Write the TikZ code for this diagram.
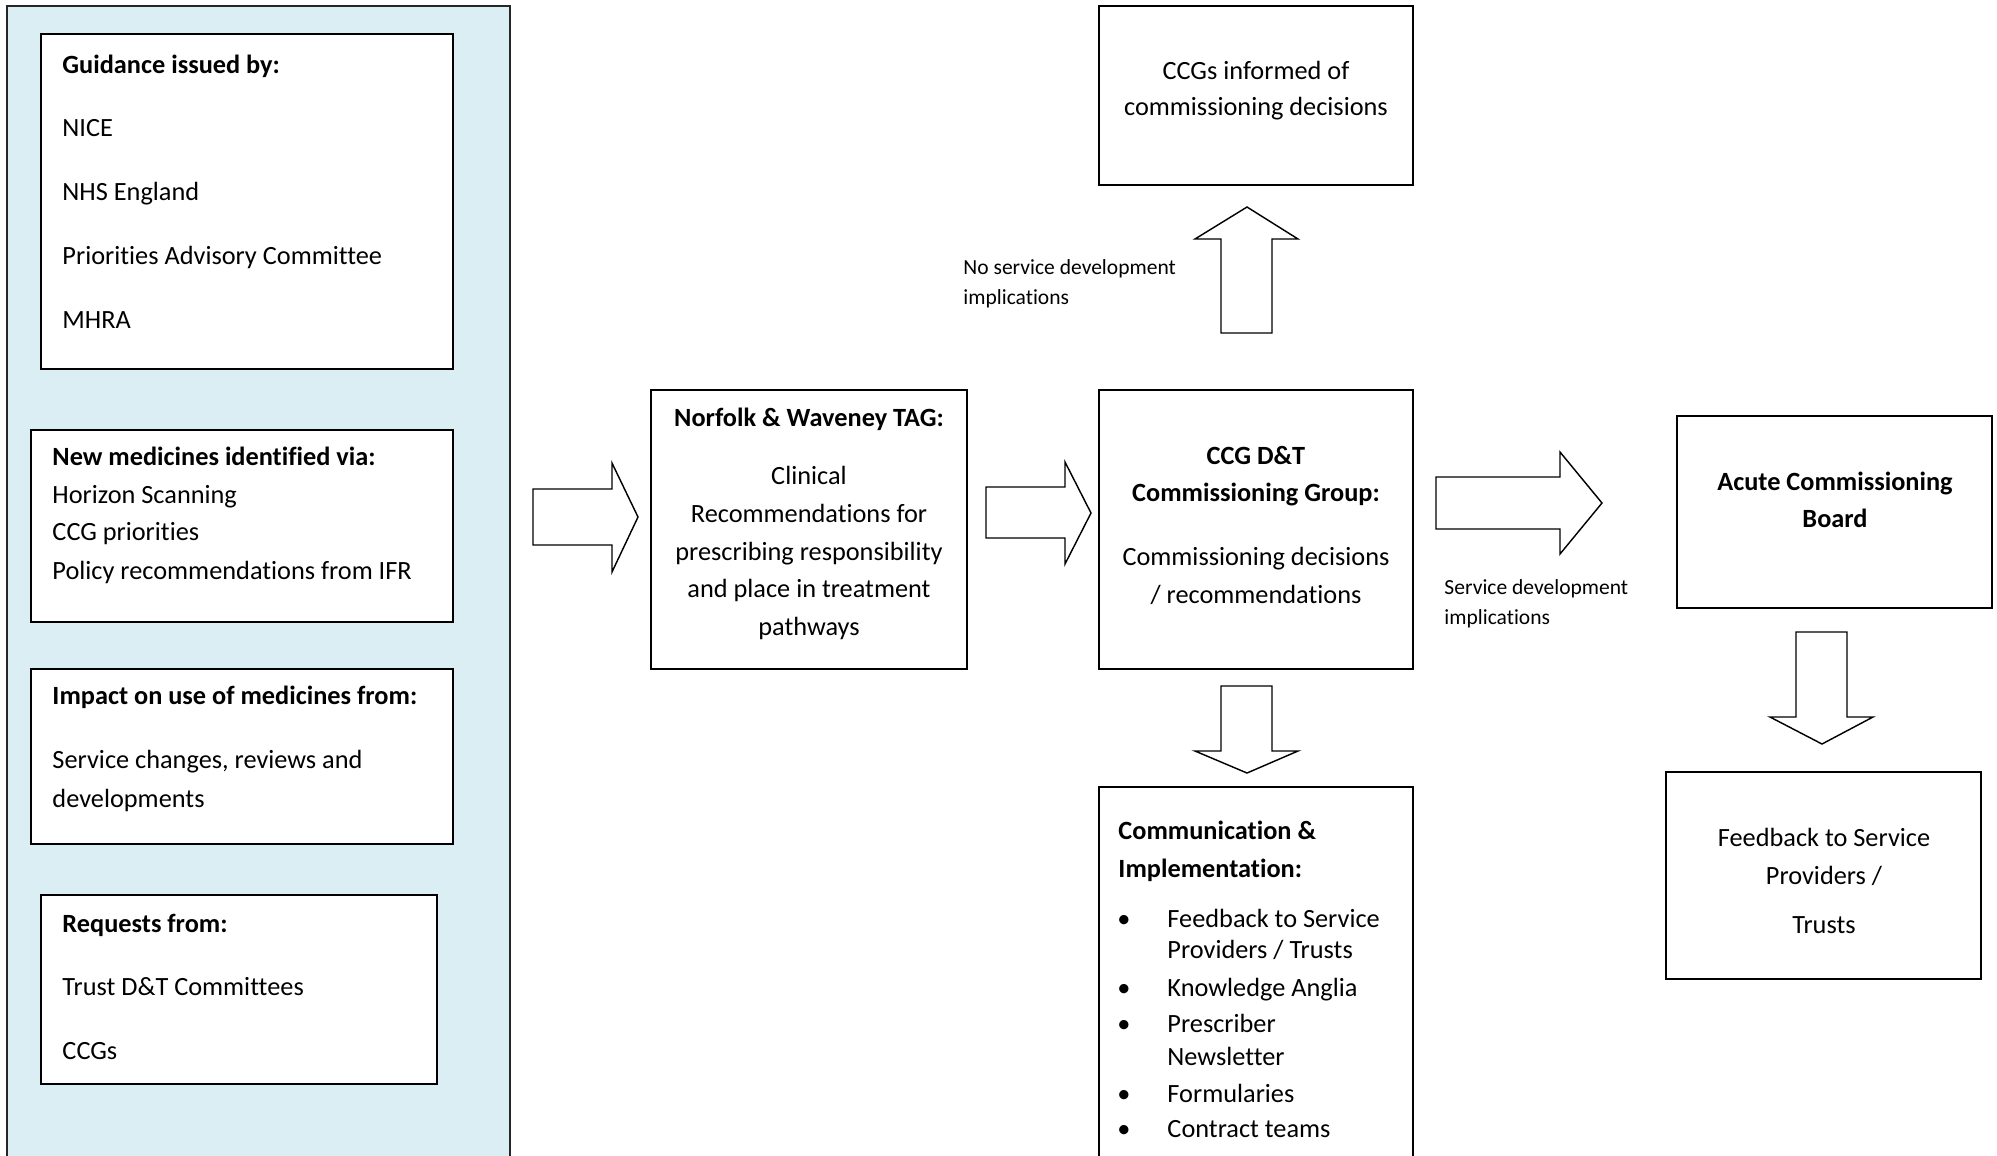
\documentclass[tikz,border=0pt]{standalone}
\usepackage{fontspec}
\setmainfont{Carlito}[Ligatures=NoCommon]
\usetikzlibrary{fit}
\definecolor{panelblue}{HTML}{DAEEF3}
\begin{document}
\begin{tikzpicture}[x=0.418pt,y=-0.418pt,
  box/.style={draw=black,line width=0.85pt,fill=white,inner sep=0pt},
  panelbox/.style={draw=black!85,line width=0.85pt,fill=panelblue,inner sep=0pt},
  blockarrow/.style={draw=black,line width=0.6pt,fill=white,line join=miter},
  txt/.style={anchor=base west,inner sep=0pt,font=\fontsize{11}{13}\selectfont},
  btxt/.style={txt,font=\fontsize{11}{13}\selectfont\bfseries},
  ctxt/.style={anchor=base,inner sep=0pt,font=\fontsize{11}{13}\selectfont},
  cbtxt/.style={ctxt,font=\fontsize{11}{13}\selectfont\bfseries},
  smalltxt/.style={anchor=base west,inner sep=0pt,font=\fontsize{9}{11}\selectfont}]
\useasboundingbox (0,0) rectangle (1997,1155);
\clip (0,0) rectangle (1997,1155);

% left panel
\node[panelbox,fit={(7,6) (510,1170)}] (panel) {};

% boxes
\node[box,fit={(41,34) (453,369)}] (guid) {};
\node[box,fit={(31,430) (453,622)}] (newm) {};
\node[box,fit={(31,669) (453,844)}] (impact) {};
\node[box,fit={(41,895) (437,1084)}] (req) {};
\node[box,fit={(651,390) (967,669)}] (tag) {};
\node[box,fit={(1099,390) (1413,669)}] (ccg) {};
\node[box,fit={(1099,6) (1413,185)}] (inf) {};
\node[box,fit={(1099,787) (1413,1175)}] (comm) {};
\node[box,fit={(1677,416) (1992,608)}] (acute) {};
\node[box,fit={(1666,772) (1981,979)}] (fb) {};

% Guidance box text
\node[btxt] (g1) at (62,73) {Guidance issued by:};
\node[txt] (g2) at (62,136) {NICE};
\node[txt] (g3) at (62,200) {NHS England};
\node[txt] (g4) at (62,264) {Priorities Advisory Committee};
\node[txt] (g5) at (62,328) {MHRA};

% New medicines
\node[btxt] (n1) at (52,465) {New medicines identified via:};
\node[txt] (n2) at (52,503) {Horizon Scanning};
\node[txt] (n3) at (52,540) {CCG priorities};
\node[txt] (n4) at (52,579) {Policy recommendations from IFR};

% Impact
\node[btxt] (i1) at (52,704) {Impact on use of medicines from:};
\node[txt] (i2) at (52,768) {Service changes, reviews and};
\node[txt] (i3) at (52,807) {developments};

% Requests
\node[btxt] (r1) at (62,932) {Requests from:};
\node[txt] (r2) at (62,995) {Trust D\&T Committees};
\node[txt] (r3) at (62,1059) {CCGs};

% TAG
\node[cbtxt] (t1) at (809,426) {Norfolk \& Waveney TAG:};
\node[ctxt] (t2) at (809,484) {Clinical};
\node[ctxt] (t3) at (809,522) {Recommendations for};
\node[ctxt] (t4) at (809,560) {prescribing responsibility};
\node[ctxt] (t5) at (809,597) {and place in treatment};
\node[ctxt] (t6) at (809,635) {pathways};

% CCG D&T
\node[cbtxt] (c1) at (1256,464) {CCG D\&T};
\node[cbtxt] (c2) at (1256,501) {Commissioning Group:};
\node[ctxt] (c3) at (1256,565) {Commissioning decisions};
\node[ctxt] (c4) at (1256,603) {/ recommendations};

% CCGs informed
\node[ctxt] (f1) at (1256,79) {CCGs informed of};
\node[ctxt] (f2) at (1256,115) {commissioning decisions};

% Communication
\node[btxt] (m1) at (1118,839) {Communication \&};
\node[btxt] (m2) at (1118,877) {Implementation:};
\node[txt] (b1) at (1117,927) {\textbullet};
\node[txt] (m3) at (1167,927) {Feedback to Service};
\node[txt] (m4) at (1167,958) {Providers / Trusts};
\node[txt] (b2) at (1117,996) {\textbullet};
\node[txt] (m5) at (1167,996) {Knowledge Anglia};
\node[txt] (b3) at (1117,1032) {\textbullet};
\node[txt] (m6) at (1167,1032) {Prescriber};
\node[txt] (m7) at (1167,1065) {Newsletter};
\node[txt] (b4) at (1117,1102) {\textbullet};
\node[txt] (m8) at (1167,1102) {Formularies};
\node[txt] (b5) at (1117,1137) {\textbullet};
\node[txt] (m9) at (1167,1137) {Contract teams};

% Acute
\node[cbtxt] (a1) at (1835,490) {Acute Commissioning};
\node[cbtxt] (a2) at (1835,527) {Board};

% Feedback
\node[ctxt] (k1) at (1824,846) {Feedback to Service};
\node[ctxt] (k2) at (1824,884) {Providers /};
\node[ctxt] (k3) at (1824,933) {Trusts};

% small labels
\node[smalltxt] (s1) at (963,274) {No service development};
\node[smalltxt] (s2) at (963,304) {implications};
\node[smalltxt] (s3) at (1444,594) {Service development};
\node[smalltxt] (s4) at (1444,624) {implications};

% block arrows
\draw[blockarrow] (533,489) -- (612,489) -- (612,463) -- (638,517) -- (612,572) -- (612,545) -- (533,545) -- cycle;
\draw[blockarrow] (986,487) -- (1065,487) -- (1065,462) -- (1091,513) -- (1065,564) -- (1065,538) -- (986,538) -- cycle;
\draw[blockarrow] (1221,333) -- (1221,239) -- (1195,239) -- (1247,207) -- (1298,239) -- (1272,239) -- (1272,333) -- cycle;
\draw[blockarrow] (1221,686) -- (1272,686) -- (1272,751) -- (1298,751) -- (1247,773) -- (1195,751) -- (1221,751) -- cycle;
\draw[blockarrow] (1436,477) -- (1560,477) -- (1560,452) -- (1602,503) -- (1560,554) -- (1560,529) -- (1436,529) -- cycle;
\draw[blockarrow] (1796,632) -- (1847,632) -- (1847,717) -- (1873,717) -- (1822,744) -- (1770,717) -- (1796,717) -- cycle;
\end{tikzpicture}
\end{document}
